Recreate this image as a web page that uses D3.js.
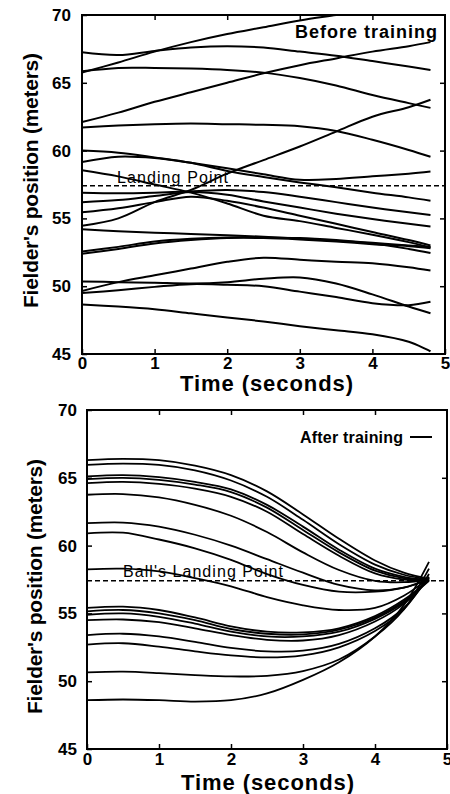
<!doctype html>
<html lang="en">
<head>
    <meta charset="UTF-8" />
    <title>Fielder's position before and after training</title>
    <script src="https://d3js.org/d3.v7.min.js"></script>
    <style>
        body, html {
            margin: 0;
            padding: 0;
            background: white;
        }

        svg {
            display: block;
            font-family: "Liberation Sans", Arial, Helvetica, sans-serif;
        }

        .tick text {
            font-size: 17px;
            font-weight: bold;
            fill: black;
        }

        .tick line {
            stroke: black;
            stroke-width: 1.5px;
        }

        .trace {
            fill: none;
            stroke: black;
        }

        .axis-title {
            font-weight: bold;
        }
    </style>
</head>
<body>
    <svg id="chart" width="450" height="794"></svg>

    <script>
        // time samples of the traces (seconds)
        const beforeTimes = [0, 0.5, 1, 1.5, 2, 2.5, 3, 3.5, 4, 4.5, 4.8];
        const afterTimes = [0, 0.5, 1, 1.5, 2, 2.5, 3, 3.5, 4, 4.4, 4.75];

        // fielder's position (meters), one row per run
        const beforeTraining = [
            [65.75, 66.5, 67.3, 68.0, 68.6, 69.1, 69.6, 70.0, 70.4, 70.7, 70.9],
            [67.25, 67.05, 67.35, 67.6, 67.7, 67.6, 67.3, 67.0, 66.6, 66.2, 65.95],
            [65.85, 66.1, 66.1, 66.05, 65.95, 65.75, 65.35, 64.8, 64.1, 63.5, 63.15],
            [62.1, 62.8, 63.6, 64.3, 65.0, 65.7, 66.3, 66.8, 67.3, 67.7, 68.0],
            [61.7, 61.85, 61.95, 62.0, 61.95, 61.9, 61.8, 61.45, 60.8, 60.05, 59.55],
            [54.45, 55.0, 56.2, 57.1, 58.3, 59.3, 60.3, 61.4, 62.5, 63.2, 63.75],
            [60.0, 59.85, 59.5, 59.1, 58.5, 58.05, 57.65, 57.3, 56.9, 56.55, 56.3],
            [59.15, 59.55, 59.45, 59.1, 58.7, 58.25, 57.85, 57.9, 58.1, 58.3, 58.45],
            [58.55, 58.1, 57.5, 56.9, 56.1, 55.2, 54.8, 54.3, 53.8, 53.25, 52.85],
            [56.9, 56.85, 56.9, 57.0, 57.1, 56.95, 56.6, 56.2, 55.8, 55.45, 55.25],
            [56.2, 56.35, 56.65, 56.95, 56.75, 56.25, 55.8, 55.35, 54.95, 54.6, 54.4],
            [55.45, 55.75, 56.2, 56.6, 56.3, 55.8, 55.2, 54.6, 54.0, 53.4, 53.0],
            [54.2, 54.05, 53.95, 53.85, 53.75, 53.65, 53.5, 53.35, 53.15, 52.75, 52.45],
            [52.55, 52.9, 53.3, 53.5, 53.6, 53.6, 53.55, 53.4, 53.2, 53.0, 52.9],
            [52.4, 52.75, 53.15, 53.4, 53.55, 53.55, 53.45, 53.3, 53.1, 52.95, 52.8],
            [49.65, 50.3, 50.8, 51.3, 51.8, 52.1, 51.95, 51.8, 51.7, 51.4, 51.15],
            [50.35, 50.3, 50.25, 50.2, 50.3, 50.55, 50.65, 50.2, 49.4, 48.5, 48.0],
            [49.5, 49.7, 49.95, 50.15, 50.1, 50.0, 49.6, 49.2, 48.75, 48.6, 48.85],
            [48.65, 48.5, 48.3, 48.0, 47.7, 47.4, 47.05, 46.75, 46.45, 45.9, 45.2]
        ];

        const afterTraining = [
            [66.3, 66.4, 66.3, 65.9, 65.2, 64.0, 62.3, 60.5, 58.9, 58.0, 57.55],
            [65.95, 66.05, 65.95, 65.55, 64.8, 63.6, 61.9, 60.1, 58.6, 57.85, 57.5],
            [65.1, 65.2, 65.05, 64.7, 64.15, 63.0, 61.4, 59.7, 58.3, 57.7, 57.45],
            [64.9, 65.0, 64.85, 64.5, 63.95, 62.8, 61.15, 59.5, 58.15, 57.6, 57.5],
            [64.6, 64.7, 64.55, 64.2, 63.6, 62.5, 60.85, 59.25, 57.95, 57.5, 57.45],
            [63.75, 63.8, 63.55, 63.0, 62.2, 61.0, 59.5, 58.2, 57.4, 57.3, 57.5],
            [61.65, 61.7, 61.4, 60.8, 60.0, 59.0, 58.0, 57.1, 56.7, 56.9, 57.5],
            [60.9, 60.95, 60.45, 59.8, 58.95, 57.9, 57.1, 56.6, 56.6, 56.9, 57.55],
            [58.25, 58.3, 58.1, 57.6, 57.0, 56.2, 55.6, 55.25, 55.4, 56.3, 57.6],
            [55.4, 55.5, 55.25, 54.7, 54.05, 53.65, 53.6, 53.9, 54.8, 56.0, 57.45],
            [55.15, 55.25, 55.0, 54.5, 53.85, 53.5, 53.45, 53.8, 54.7, 55.9, 57.4],
            [54.9, 55.0, 54.75, 54.25, 53.65, 53.3, 53.3, 53.65, 54.6, 55.8, 57.5],
            [54.5, 54.55, 54.35, 53.9, 53.4, 53.05, 53.0, 53.4, 54.4, 55.7, 57.6],
            [53.4, 53.5, 53.3, 52.9, 52.45, 52.2, 52.25, 52.75, 53.9, 55.4, 57.7],
            [52.7, 52.8, 52.55, 52.2, 51.9, 51.75, 51.9, 52.5, 53.7, 55.3, 57.9],
            [50.65, 50.7, 50.6, 50.45, 50.35, 50.4, 50.75, 51.6, 53.3, 55.3, 58.3],
            [48.6, 48.65, 48.6, 48.5, 48.6, 49.1, 50.1, 51.4, 53.3, 55.6, 58.8]
        ];

        const landingPoint = 57.4;
        const xTicks = [0, 1, 2, 3, 4, 5];
        const yTicks = [45, 50, 55, 60, 65, 70];

        const svg = d3.select("#chart");

        function drawPanel(id, box, times, runs, opts) {
            const x = d3.scaleLinear().domain([0, 5]).range([box.left, box.right]);
            const y = d3.scaleLinear().domain([45, 70]).range([box.bottom, box.top]);
            const g = svg.append("g");

            g.append("clipPath").attr("id", id)
                .append("rect")
                .attr("x", box.left).attr("y", box.top)
                .attr("width", box.right - box.left).attr("height", box.bottom - box.top);

            // inward ticks on all four sides
            g.append("g").attr("transform", `translate(0,${box.bottom})`)
                .call(d3.axisBottom(x).tickValues(xTicks).tickSize(-5).tickPadding(opts.xPad).tickFormat(d3.format("d")));
            g.append("g").attr("transform", `translate(0,${box.top})`)
                .call(d3.axisTop(x).tickValues(xTicks.slice(1, -1)).tickSize(-5).tickFormat(""));
            g.append("g").attr("transform", `translate(${box.left},0)`)
                .call(d3.axisLeft(y).tickValues(yTicks).tickSize(-5).tickPadding(opts.yPad).tickFormat(d3.format("d")));
            g.append("g").attr("transform", `translate(${box.right},0)`)
                .call(d3.axisRight(y).tickValues(yTicks.slice(1, -1)).tickSize(-5).tickFormat(""));
            g.selectAll(".domain").remove();

            g.append("rect")
                .attr("x", box.left).attr("y", box.top)
                .attr("width", box.right - box.left).attr("height", box.bottom - box.top)
                .attr("fill", "none").attr("stroke", "black").attr("stroke-width", 2);

            const line = d3.line()
                .x((d, i) => x(times[i]))
                .y(d => y(d))
                .curve(d3.curveCatmullRom.alpha(0.5));

            g.append("g").attr("clip-path", `url(#${id})`)
                .selectAll("path")
                .data(runs)
                .join("path")
                .attr("class", "trace")
                .attr("stroke-width", opts.lineWidth)
                .attr("d", line);

            g.append("line")
                .attr("x1", x(0)).attr("x2", x(5))
                .attr("y1", y(landingPoint)).attr("y2", y(landingPoint))
                .attr("stroke", "black").attr("stroke-width", 1.5)
                .attr("stroke-dasharray", "5,3");

            g.append("text")
                .attr("class", "axis-title")
                .attr("x", opts.xTitleX - 86.5)
                .attr("y", box.bottom + opts.xTitleDy)
                .attr("font-size", 22)
                .attr("textLength", 173)
                .text("Time (seconds)");

            g.append("text")
                .attr("class", "axis-title")
                .attr("transform", `translate(${opts.yTitleX},${opts.yTitleY + 127.5}) rotate(-90)`)
                .attr("font-size", 21)
                .attr("textLength", 255)
                .text("Fielder's position (meters)");

            return g;
        }

        const topPanel = drawPanel("clip-before", { left: 82, right: 445, top: 15, bottom: 354 },
            beforeTimes, beforeTraining,
            { lineWidth: 2, xPad: 3, yPad: 11, xTitleX: 266.5, xTitleDy: 37, yTitleX: 38, yTitleY: 180.5 });

        topPanel.append("text")
            .attr("x", 117).attr("y", 183)
            .attr("font-size", 16)
            .attr("textLength", 111)
            .text("Landing Point");

        topPanel.append("text")
            .attr("x", 295).attr("y", 38)
            .attr("font-size", 18)
            .attr("font-weight", "bold")
            .attr("textLength", 142)
            .text("Before training");

        const bottomPanel = drawPanel("clip-after", { left: 87, right: 447, top: 410, bottom: 749 },
            afterTimes, afterTraining,
            { lineWidth: 1.8, xPad: 4, yPad: 10, xTitleX: 267.5, xTitleDy: 41, yTitleX: 42, yTitleY: 586.5 });

        bottomPanel.append("text")
            .attr("x", 123).attr("y", 577)
            .attr("font-size", 16)
            .attr("textLength", 160)
            .text("Ball's Landing Point");

        bottomPanel.append("text")
            .attr("x", 300).attr("y", 443)
            .attr("font-size", 16)
            .attr("font-weight", "bold")
            .attr("textLength", 103)
            .text("After training");

        bottomPanel.append("line")
            .attr("x1", 410).attr("x2", 432)
            .attr("y1", 437).attr("y2", 437)
            .attr("stroke", "black").attr("stroke-width", 2);
    </script>
</body>
</html>
